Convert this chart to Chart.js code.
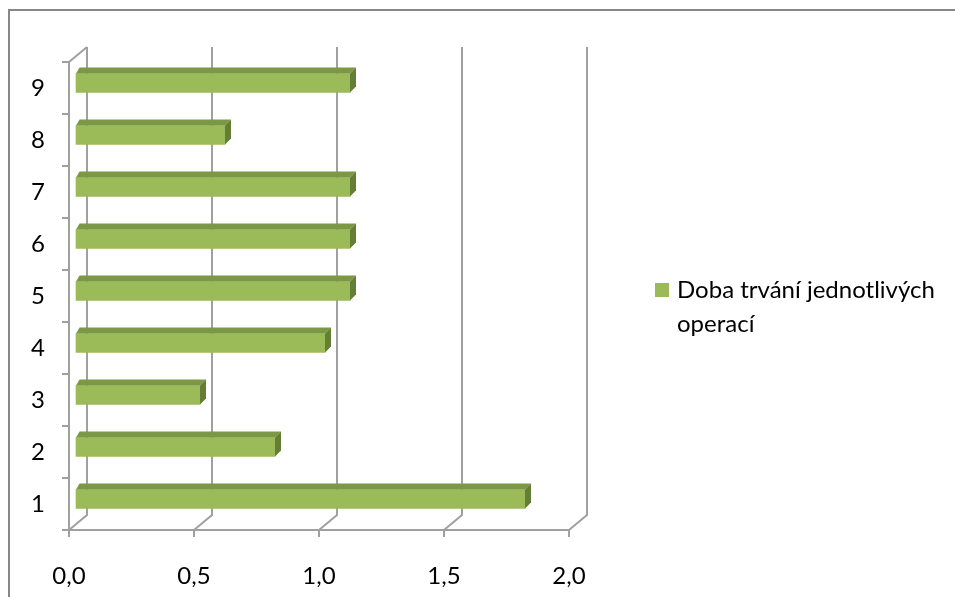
<!DOCTYPE html>
<html lang="cs">
<head>
<meta charset="utf-8">
<title>Doba trvání jednotlivých operací</title>
<script src="https://cdn.jsdelivr.net/npm/chart.js@4.4.1/dist/chart.umd.min.js"></script>
<style>
  html, body { margin: 0; padding: 0; background: #fff; overflow: hidden; }
  #wrap { position: relative; width: 955px; height: 597px; }
</style>
</head>
<body>
<div id="wrap"><canvas id="chart"></canvas></div>
<script>
// Operation numbers and their durations
const categories = ['1', '2', '3', '4', '5', '6', '7', '8', '9'];
const durations = [1.8, 0.8, 0.5, 1.0, 1.1, 1.1, 1.1, 0.6, 1.1];
const seriesName = 'Doba trvání jednotlivých operací';
const legendLines = ['Doba trvání jednotlivých', 'operací'];
const xTicks = [0, 0.5, 1.0, 1.5, 2.0];

const FONT = 'Lato, "Open Sans", sans-serif';
const GRID = '#a0a0a0';
const BAR_FRONT = '#9bbb59';
const BAR_TOP = '#7b9944';
const BAR_SIDE = '#657e35';

// fake 3D: back wall offset, where the bars sit in depth, and bar thickness in depth
const DEPTH = { x: 18, y: -15 };
const BAR_SHIFT = { x: 6, y: -5 };
const BAR_DEPTH = { x: 6, y: -6 };

const fmt = v => v.toFixed(1).replace('.', ',');

const box3d = {
  id: 'box3d',
  beforeDraw(chart) {
    // outer frame
    const ctx = chart.ctx;
    ctx.save();
    ctx.strokeStyle = '#878787';
    ctx.lineWidth = 2;
    ctx.strokeRect(9, 10, 2000, 2000);
    ctx.restore();
  },
  beforeDatasetsDraw(chart) {
    const { ctx, chartArea: a, scales: { x } } = chart;
    ctx.save();
    ctx.strokeStyle = GRID;
    ctx.lineWidth = 2;
    ctx.beginPath();
    xTicks.forEach(v => {
      const px = x.getPixelForValue(v);
      ctx.moveTo(px, a.bottom);
      ctx.lineTo(px + DEPTH.x, a.bottom + DEPTH.y);
      ctx.lineTo(px + DEPTH.x, a.top + DEPTH.y);
    });
    ctx.moveTo(a.left, a.top);
    ctx.lineTo(a.left + DEPTH.x, a.top + DEPTH.y);
    ctx.stroke();
    ctx.restore();

    // bars are drawn a bit inside the box
    ctx.save();
    ctx.translate(BAR_SHIFT.x, BAR_SHIFT.y);
  },
  afterDatasetsDraw(chart) {
    const ctx = chart.ctx;
    const meta = chart.getDatasetMeta(0);
    meta.data.forEach(bar => {
      const { x: x1, y, base: x0, height: h } = bar.getProps(['x', 'y', 'base', 'height'], true);
      const top = y - h / 2;
      const bottom = y + h / 2;
      ctx.fillStyle = BAR_TOP;
      ctx.beginPath();
      ctx.moveTo(x0, top);
      ctx.lineTo(x1, top);
      ctx.lineTo(x1 + BAR_DEPTH.x, top + BAR_DEPTH.y);
      ctx.lineTo(x0 + BAR_DEPTH.x * 0.6, top + BAR_DEPTH.y);
      ctx.closePath();
      ctx.fill();
      ctx.fillStyle = BAR_SIDE;
      ctx.beginPath();
      ctx.moveTo(x1, top);
      ctx.lineTo(x1 + BAR_DEPTH.x, top + BAR_DEPTH.y);
      ctx.lineTo(x1 + BAR_DEPTH.x, bottom + BAR_DEPTH.y);
      ctx.lineTo(x1, bottom);
      ctx.closePath();
      ctx.fill();
    });
    ctx.restore();
  },
  afterDraw(chart) {
    // legend on the right, wrapped onto two lines
    const ctx = chart.ctx;
    ctx.save();
    ctx.fillStyle = BAR_FRONT;
    ctx.fillRect(655, 283, 14, 14);
    ctx.fillStyle = '#000';
    ctx.font = '24px ' + FONT;
    ctx.textAlign = 'left';
    ctx.textBaseline = 'alphabetic';
    legendLines.forEach((line, i) => ctx.fillText(line, 677, 298 + i * 34));
    ctx.restore();
  }
};

new Chart(document.getElementById('chart'), {
  type: 'bar',
  data: {
    labels: categories,
    datasets: [{
      label: seriesName,
      data: durations,
      backgroundColor: BAR_FRONT,
      borderWidth: 0,
      barThickness: 19,
      clip: false
    }]
  },
  options: {
    indexAxis: 'y',
    responsive: true,
    maintainAspectRatio: false,
    animation: false,
    layout: { padding: { top: 62, right: 386, bottom: 0, left: 0 } },
    plugins: {
      legend: { display: false },
      tooltip: { enabled: false }
    },
    scales: {
      x: {
        min: 0,
        max: 2,
        afterFit: s => { s.height = 67; },
        afterBuildTicks: s => { s.ticks = xTicks.map(v => ({ value: v })); },
        ticks: {
          font: { family: FONT, size: 24 },
          color: '#000',
          padding: 25,
          callback: v => fmt(v)
        },
        grid: { drawOnChartArea: false, drawTicks: true, tickLength: 7, color: GRID, lineWidth: 2 },
        border: { display: true, color: GRID, width: 2 }
      },
      y: {
        reverse: true,
        afterFit: s => { s.width = 69; },
        ticks: {
          font: { family: FONT, size: 24 },
          color: '#000',
          padding: 17
        },
        grid: { drawOnChartArea: false, drawTicks: true, tickLength: 7, color: GRID, lineWidth: 2 },
        border: { display: true, color: GRID, width: 2 }
      }
    }
  },
  plugins: [box3d]
});
</script>
</body>
</html>
